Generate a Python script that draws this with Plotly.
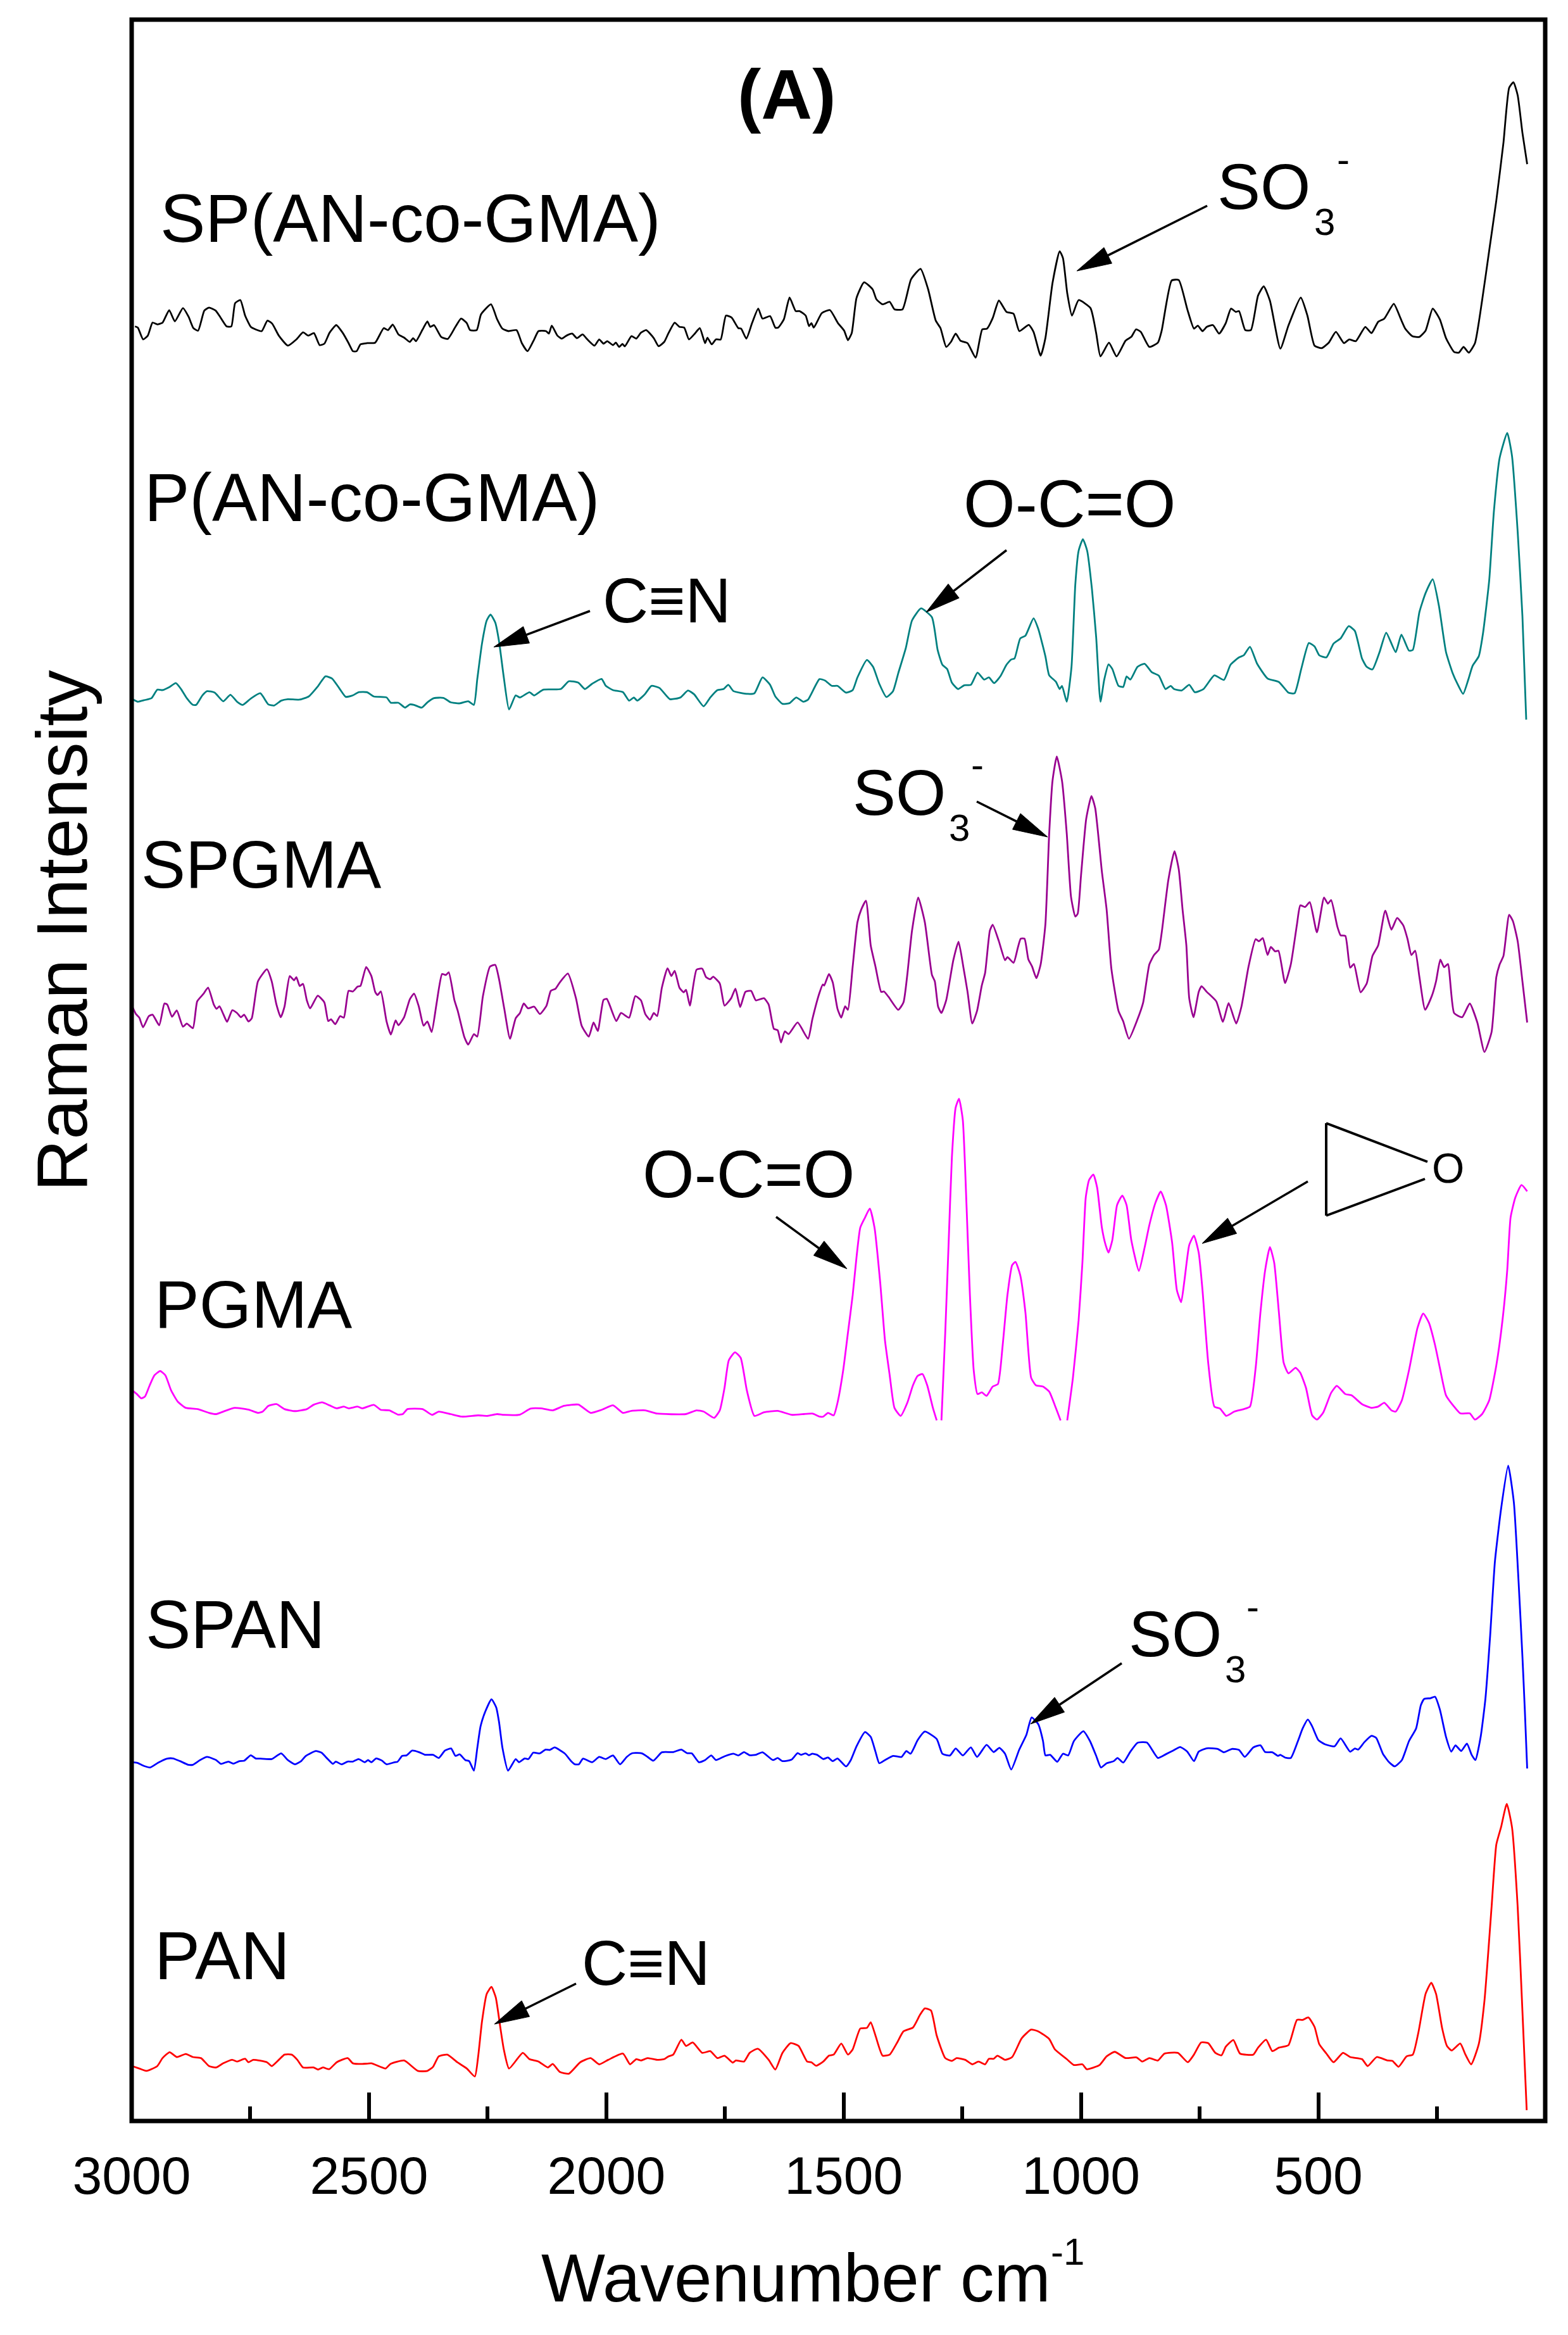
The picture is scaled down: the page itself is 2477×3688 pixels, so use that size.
import plotly.graph_objects as go

# Raman spectra: (wavenumber cm-1, intensity a.u.). None = trace leaves the plot.
sp_an_co_gma = [(2993,347),(2987,342),(2976,295),(2966,310),(2956,362),(2946,355),(2935,362),(2921,412),(2909,367),(2892,420),(2880,385),(2870,340),(2860,330),(2847,410),(2837,422),(2823,410),(2812,380),(2800,347),(2790,347),(2782,440),(2771,452),(2761,390),(2749,345),(2739,335),(2726,328),(2714,370),(2704,358),(2690,310),(2671,270),(2653,295),(2639,323),(2628,310),(2616,320),(2604,272),(2594,278),(2583,322),(2569,352),(2555,320),(2543,280),(2534,248),(2526,248),(2518,275),(2504,280),(2487,282),(2469,340),(2460,332),(2450,354),(2438,315),(2426,302),(2414,285),(2407,300),(2401,288),(2387,335),(2377,367),(2371,345),(2363,352),(2348,305),(2334,297),(2318,345),(2306,378),(2294,360),(2287,332),(2273,332),(2264,395),(2243,435),(2230,375),(2219,338),(2206,328),(2189,332),(2178,280),(2166,248),(2152,295),(2143,328),(2127,328),(2121,318),(2115,350),(2103,310),(2094,298),(2084,310),(2072,318),(2062,300),(2050,315),(2040,295),(2025,270),(2015,295),(2006,278),(1998,288),(1986,272),(1980,282),(1973,265),(1966,277),(1961,267),(1947,308),(1937,298),(1927,322),(1916,332),(1900,300),(1890,268),(1878,285),(1869,320),(1856,362),(1846,345),(1836,342),(1826,295),(1815,315),(1803,340),(1792,280),(1787,302),(1778,275),(1769,295),(1759,295),(1748,390),(1736,382),(1722,340),(1716,338),(1705,298),(1693,360),(1680,418),(1671,378),(1655,388),(1644,342),(1638,342),(1626,375),(1614,462),(1601,408),(1593,408),(1580,390),(1573,348),(1568,360),(1563,342),(1546,400),(1529,412),(1512,360),(1499,330),(1491,292),
(1483,320),(1473,460),(1457,523),(1439,495),(1431,455),(1418,435),(1403,445),(1393,415),(1376,415),(1358,535),(1338,577),(1322,495),(1306,370),(1296,340),(1284,265),(1274,285),(1264,318),(1254,290),(1239,280),(1222,222),(1208,335),(1198,338),(1186,380),(1173,450),(1157,405),(1142,397),(1130,328),(1110,353),(1100,325),(1085,230),(1075,300),(1060,520),(1045,647),(1038,620),(1029,480),(1019,390),(1005,452),(980,420),(968,320),(959,227),(941,282),(925,227),(906,290),(894,305),(884,335),(874,325),(856,265),(838,282),(830,330),(809,530),(794,532),(776,415),(762,338),(754,350),(744,328),(735,345),(722,352),(709,318),(695,360),(684,418),(674,405),(667,408),(654,332),(642,332),(627,470),(615,507),(602,450),(580,258),(563,350),(537,462),(523,390),(508,270),(493,260),(478,282),(463,325),(446,280),(435,295),(421,288),(401,345),(388,320),(374,365),(361,378),(341,437),(327,380),(317,338),(302,308),(287,305),(274,330),(259,418),(244,375),(231,300),(214,245),(204,242),(194,265),(183,242),(170,280),(155,450),(140,650),(125,850),(110,1080),(98,1300),(89,1322),(80,1270),(70,1120),(60,995)]

p_an_co_gma = [(2999,208),(2987,195),(2974,202),(2958,212),(2946,252),(2935,250),(2920,265),(2907,283),(2896,255),(2884,212),(2871,180),(2864,180),(2851,225),(2841,245),(2825,238),(2807,197),(2792,228),(2778,195),(2766,180),(2749,210),(2729,235),(2712,182),(2700,177),(2685,200),(2671,207),(2646,205),(2627,220),(2607,270),(2592,315),(2578,305),(2563,260),(2549,218),(2534,225),(2522,240),(2504,240),(2490,220),(2463,215),(2454,190),(2438,190),(2424,167),(2414,182),(2405,180),(2389,167),(2377,192),(2363,212),(2343,213),(2328,192),(2309,187),(2291,197),(2279,180),(2272,300),(2262,470),(2252,580),(2244,608),(2234,570),(2226,480),(2216,310),(2205,158),(2191,225),(2182,215),(2162,240),(2152,225),(2133,252),(2096,255),(2079,292),(2059,285),(2045,255),(2030,280),(2010,303),(2001,270),(1986,250),(1965,240),(1952,200),(1942,215),(1935,200),(1919,230),(1905,270),(1888,260),(1866,207),(1844,215),(1828,248),(1815,230),(1795,173),(1781,215),(1766,250),(1753,255),(1743,275),(1732,245),(1702,232),(1688,235),(1671,310),(1655,275),(1644,220),(1629,185),(1614,188),(1600,215),(1585,195),(1575,205),(1551,302),
(1539,295),(1525,270),(1513,270),(1495,238),(1481,250),(1471,310),(1451,393),(1438,360),(1425,280),(1410,217),(1396,245),(1385,330),(1369,450),(1356,580),(1337,637),(1314,595),(1302,440),(1292,370),(1282,350),(1272,285),(1259,255),(1246,273),(1232,275),(1218,333),(1204,300),(1194,310),(1183,283),(1170,315),(1157,370),(1147,395),(1140,400),(1128,495),(1117,508),(1100,590),(1090,540),(1075,410),(1067,320),(1053,290),(1045,255),(1040,270),(1030,195),(1020,360),(1012,750),(1005,910),(996,965),(987,910),(977,730),(968,500),(959,195),(951,300),(942,372),(934,350),(921,270),(911,265),(904,315),(896,300),(881,360),(866,375),(851,335),(836,318),(822,255),(811,270),(804,255),(788,248),(772,275),(760,240),(742,255),(719,320),(699,298),(685,370),(667,405),(657,415),(644,455),(629,375),(607,305),(583,288),(563,238),(550,235),(536,350),(520,473),(508,457),(498,415),(483,405),(468,470),(453,495),(436,553),(423,530),(408,400),(398,360),(386,348),(371,430),(357,522),(337,430),(325,513),(309,437),(301,440),(287,620),(274,710),(259,775),(246,650),(231,430),(217,330),(207,280),(195,232),(184,300),(175,365),(162,410),(153,520),(140,770),(130,1100),(118,1350),(102,1468),(92,1360),(80,1000),(70,600),(62,110)]

spgma = [(2999,282),(2991,245),(2984,228),(2976,182),(2964,235),(2956,242),(2942,192),(2931,295),(2925,290),(2915,232),(2905,262),(2892,185),(2884,200),(2871,178),(2862,305),(2849,340),(2839,370),(2827,290),(2821,270),(2815,282),(2807,245),(2799,208),(2788,263),(2778,250),(2770,230),(2763,242),(2754,210),(2747,225),(2734,400),(2715,457),(2705,400),(2695,290),(2686,230),(2678,280),(2667,425),(2658,405),(2653,420),(2646,378),(2639,388),(2631,310),(2624,272),(2608,332),(2594,300),(2586,212),(2580,220),(2571,197),(2561,235),(2553,228),(2543,355),(2534,352),(2524,375),(2518,378),(2506,468),(2495,425),(2487,350),(2482,335),(2475,352),(2463,210),(2454,148),(2444,215),(2438,192),(2426,230),(2414,315),(2405,342),(2395,280),(2385,190),(2377,210),(2368,160),(2358,290),(2346,435),(2338,430),(2332,443),(2320,310),(2313,260),(2299,135),(2291,100),(2279,150),(2272,138),(2260,330),(2245,470),(2234,478),(2226,410),(2215,270),(2203,128),(2191,225),(2182,250),(2174,295),(2165,272),(2152,280),(2140,245),(2126,285),(2117,355),(2107,365),(2098,395),(2081,437),(2064,320),(2052,190),(2037,138),(2027,205),(2018,165),(2006,312),(1999,317),(1979,212),(1969,250),(1952,228),(1939,330),(1927,310),(1918,245),(1908,218),(1900,250),(1893,235),(1883,370),(1871,462),(1863,425),(1856,450),(1846,370),(1837,348),(1832,360),(1824,285),(1810,455),(1798,460),(1790,420),(1781,410),(1775,422),(1761,390),(1751,285),(1737,320),(1728,365),(1718,278),(1707,350),(1695,355),(1685,310),(1668,320),(1658,290),(1647,175),(1639,168),(1632,110),(1624,163),(1616,150),(1597,205),(1575,128),(1566,220),(1551,345),(1544,385),
(1541,380),(1531,435),(1523,395),(1513,270),(1505,228),(1497,282),(1491,265),(1481,470),(1471,680),(1463,740),(1453,782),(1443,570),(1433,470),(1421,350),(1415,352),(1405,325),(1385,265),(1374,300),(1366,430),(1356,640),(1343,797),(1329,680),(1314,430),(1308,400),(1301,280),(1294,250),(1284,310),(1269,500),(1258,588),(1248,470),(1239,350),(1229,200),(1219,260),(1209,380),(1202,440),(1192,640),(1186,668),(1173,590),(1160,500),(1155,515),(1142,488),(1133,560),(1127,602),(1119,602),(1111,505),(1103,470),(1094,415),(1085,480),(1075,670),(1067,1100),(1060,1350),(1051,1465),(1040,1350),(1030,1100),(1021,800),(1012,707),(1007,720),(1000,900),(989,1170),(978,1278),(970,1220),(956,920),(946,740),(936,460),(921,260),(911,210),(899,128),(881,220),(869,300),(856,480),(846,525),(836,550),(830,630),(816,880),(803,1017),(794,930),(786,740),(778,570),(772,320),(763,230),(752,350),(746,377),(735,350),(715,305),(701,208),(689,297),(673,200),(662,280),(647,470),(632,600),(625,590),(617,605),(607,525),(600,563),(591,542),(584,545),(570,392),(558,480),(545,670),(538,760),(528,752),(518,775),(503,632),(488,797),(480,768),(473,785),(460,660),(453,618),(443,615),(433,465),(425,482),(411,348),(398,390),(386,520),(374,570),(359,735),(346,645),(334,700),(321,665),(312,600),(304,525),(296,545),(287,420),(275,265),(261,330),(252,400),(243,503),(235,467),(227,482),(214,250),(197,230),(181,295),(165,205),(150,65),(135,160),(125,420),(118,480),(110,520),(98,715),(90,685),(80,590),(70,400),(60,205)]

pgma = [(2999,270),(2989,255),(2980,238),(2972,245),(2962,290),(2952,330),(2940,347),(2929,330),(2917,270),(2903,225),(2886,200),(2861,195),(2837,180),(2822,175),(2803,188),(2783,200),(2754,193),(2734,180),(2724,185),(2712,208),(2695,215),(2678,195),(2656,187),(2631,195),(2617,212),(2599,222),(2583,210),(2568,198),(2553,205),(2543,198),(2524,205),(2514,198),(2490,212),(2475,192),(2457,190),(2439,173),(2429,175),(2419,195),(2387,195),(2367,172),(2353,185),(2328,175),(2304,165),(2270,170),(2250,168),(2230,175),(2216,172),(2182,173),(2160,197),(2138,198),(2113,190),(2089,208),(2059,213),(2033,180),(2010,192),(1986,210),(1965,180),(1947,188),(1918,190),(1893,177),(1833,175),(1810,190),(1795,185),(1773,160),(1761,190),(1751,280),(1742,390),(1729,422),(1717,400),(1704,270),(1688,168),(1668,182),(1639,188),(1609,172),(1566,177),(1551,165),
(1543,165),(1533,180),(1521,170),(1513,220),(1501,350),(1491,500),(1481,650),(1473,800),(1465,920),(1455,960),(1445,996),(1435,920),(1423,700),(1413,470),(1403,330),(1393,200),(1380,168),(1366,220),(1354,290),(1344,328),(1334,335),(1324,290),(1312,200),(1304,150),(1299,None),(1294,150),(1286,500),(1279,850),(1272,1200),(1264,1400),(1257,1435),(1249,1350),(1241,1000),(1234,650),(1226,350),(1218,255),(1209,262),(1199,248),(1186,285),(1175,295),(1165,450),(1155,650),(1145,770),(1138,783),(1128,730),(1117,580),(1105,320),(1095,290),(1080,285),(1067,265),(1055,210),(1043,150),(1036,None),(1029,150),(1017,320),(1005,550),(997,780),(990,1040),(983,1110),(974,1132),(966,1080),(956,920),(948,850),(942,820),(934,870),(924,1010),(913,1048),(904,1010),(894,870),(878,747),(866,840),(856,930),(843,1020),(832,1064),(821,1010),(808,860),(798,670),(789,622),(782,710),(772,850),(762,888),(752,820),(744,670),(732,380),(719,205),(707,197),(694,168),(677,185),(657,195),(644,205),(632,360),(622,580),(612,750),(602,842),(593,780),(583,580),(573,380),(563,338),(548,360),(538,340),(526,280),(513,170),(503,153),(490,180),(473,260),(461,288),(443,255),(430,250),(408,215),(388,200),(374,205),(361,220),(346,190),(337,185),(324,230),(309,350),(291,520),(279,577),(267,540),(254,450),(244,360),(231,250),(214,205),(201,178),(181,178),(170,153),(155,175),(140,230),(125,370),(112,550),(102,750),(95,960),(85,1040),(72,1090),(60,1065)]

span = [(2999,150),(2988,147),(2974,132),(2961,125),(2944,148),(2925,167),(2913,168),(2898,155),(2881,138),(2871,138),(2856,160),(2841,175),(2822,160),(2812,142),(2796,153),(2786,143),(2773,155),(2763,157),(2749,183),(2739,168),(2729,167),(2705,165),(2685,192),(2671,160),(2656,140),(2643,155),(2633,180),(2612,203),(2600,195),(2587,165),(2576,142),(2570,153),(2558,140),(2545,153),(2534,153),(2522,165),(2509,150),(2502,160),(2495,150),(2485,168),(2473,158),(2463,140),(2446,150),(2440,152),(2430,180),(2421,182),(2409,205),(2395,198),(2382,185),(2365,185),(2353,170),(2340,205),(2327,215),(2318,180),(2309,187),(2297,160),(2289,155),(2279,110),(2272,215),(2265,320),(2255,390),(2242,448),(2232,410),(2226,340),(2219,220),(2207,110),(2191,165),(2184,150),(2172,168),(2164,165),(2154,195),(2140,192),(2128,210),(2119,208),(2109,220),(2088,192),(2074,155),(2066,140),(2058,140),(2049,167),(2030,150),(2015,175),(2001,165),(1986,182),(1971,140),(1957,175),(1945,193),(1925,192),(1913,175),(1901,157),(1883,197),(1859,198),(1842,210),(1830,193),(1820,192),(1805,150),(1792,160),(1779,182),(1769,160),(1751,178),(1732,190),(1722,182),(1710,198),(1698,183),(1685,185),(1671,197),(1649,160),(1639,170),(1629,155),(1610,162),(1597,193),(1590,185),(1580,192),(1573,183),(1566,190),(1556,185),
(1543,165),(1533,172),(1523,155),(1513,168),(1495,130),(1485,160),(1473,225),(1455,293),(1443,270),(1433,200),(1425,145),(1413,160),(1396,180),(1378,175),(1368,203),(1359,190),(1344,255),(1329,295),(1304,260),(1292,190),(1276,182),(1264,215),(1249,182),(1232,220),(1219,175),(1199,232),(1184,198),(1172,218),(1160,190),(1147,115),(1130,210),(1115,280),(1104,362),(1090,330),(1080,250),(1075,182),(1065,185),(1050,152),(1038,190),(1027,182),(1015,250),(995,297),(981,250),(968,180),(958,125),(946,145),(931,155),(923,170),(911,148),(896,200),(881,242),(861,243),(838,170),(821,188),(806,205),(791,222),(776,200),(762,155),(752,200),(735,216),(712,213),(699,197),(682,213),(667,208),(655,175),(637,220),(622,230),(612,198),(597,197),(585,180),(580,185),(570,172),(558,170),(543,250),(533,310),(522,352),(513,320),(500,255),(486,235),(466,225),(453,263),(433,200),(423,215),(416,210),(403,245),(388,275),(378,265),(364,190),(351,150),(339,130),(324,160),(309,250),(294,310),(284,420),(277,450),(264,453),(254,460),(244,400),(231,270),(220,200),(211,230),(199,203),(187,238),(177,185),(169,160),(158,270),(148,450),(138,750),(128,1100),(115,1350),(100,1555),(88,1380),(78,1000),(70,650),(65,400),(60,120)]

pan = [(2999,792),(2984,785),(2969,778),(2946,792),(2935,815),(2920,832),(2905,818),(2886,827),(2871,818),(2854,815),(2837,792),(2822,788),(2807,800),(2788,810),(2778,805),(2761,813),(2754,803),(2744,810),(2715,803),(2705,792),(2690,810),(2678,825),(2663,825),(2651,810),(2639,788),(2617,788),(2607,782),(2597,788),(2584,783),(2568,803),(2545,815),(2534,800),(2514,798),(2495,800),(2465,785),(2455,798),(2426,808),(2397,778),(2377,778),(2365,790),(2353,820),(2335,825),(2314,803),(2294,785),(2277,762),(2270,820),(2262,920),(2252,1000),(2242,1020),(2233,990),(2223,900),(2216,840),(2205,785),(2176,830),(2162,812),(2143,805),(2123,788),(2113,798),(2098,775),(2079,770),(2055,803),(2033,815),(2015,797),(1996,810),(1965,828),(1950,797),(1937,812),(1927,808),(1913,815),(1893,810),(1878,812),(1869,820),(1859,825),(1842,868),(1832,850),(1818,860),(1798,830),(1781,835),(1766,815),(1751,822),(1734,802),(1727,808),(1710,805),(1698,830),(1681,842),(1658,810),(1644,782),(1629,830),(1612,858),(1595,850),(1577,805),(1568,803),(1558,793),
(1543,805),(1531,822),(1521,825),(1505,857),(1491,825),(1481,840),(1465,900),(1451,902),(1443,918),(1433,880),(1418,822),(1403,825),(1388,858),(1374,892),(1354,903),(1339,940),(1329,958),(1316,952),(1304,880),(1286,815),(1272,807),(1262,815),(1244,810),(1229,797),(1216,805),(1202,797),(1194,813),(1184,813),(1176,822),(1160,810),(1145,818),(1125,872),(1105,897),(1090,892),(1067,870),(1055,840),(1030,812),(1015,795),(997,797),(988,783),(961,795),(946,820),(929,833),(906,815),(883,817),(871,805),(856,815),(838,808),(824,828),(796,830),(775,803),(762,825),(747,860),(732,858),(717,830),(704,823),(695,848),(679,867),(665,828),(637,825),(627,845),(610,868),(597,835),(583,845),(563,852),(545,925),(533,925),(521,932),(508,905),(498,855),(483,828),(468,803),(448,830),(433,818),(408,812),(396,792),(377,818),(354,808),(344,807),(331,790),(314,820),(301,825),(289,890),(274,1000),(262,1032),(252,1000),(239,900),(229,850),(219,837),(201,857),(190,825),(178,797),(162,855),(150,980),(135,1250),(125,1430),(115,1480),(103,1547),(92,1480),(80,1250),(70,950),(61,665)]

series_names = ["SP(AN-co-GMA)", "P(AN-co-GMA)", "SPGMA", "PGMA", "SPAN", "PAN"]
series_data = [sp_an_co_gma, p_an_co_gma, spgma, pgma, span, pan]
series_colors = ["#000000", "#008080", "#990090", "#FF00FF", "#0000FF", "#FF0000"]
series_offset = [2697.3, 2176.7, 1666.7, 1047.3, 516.7, -347.7]   # vertical stacking
series_scale = [2.529, 3.0, 3.0, 2.529, 3.0, 1.823]              # a.u. per stacked unit

W, H = 2477, 3688
PAGE = 8          # the page's own margin round the figure
L, R, T, B = 208, 2441, 31, 3350
FONT = "Liberation Sans"

fig = go.Figure()
for name, data, color, off, sc in zip(series_names, series_data, series_colors, series_offset, series_scale):
    fig.add_trace(go.Scatter(
        x=[p[0] for p in data],
        y=[None if p[1] is None else off + p[1] / sc for p in data],
        mode="lines", name=name, line=dict(color=color, width=2.8, shape="spline", smoothing=0.5),
        connectgaps=False))


def X(px):
    return (px - L) / (R - L)


def Y(py):
    return (B - py) / (B - T)


annotations = []
shapes = [dict(type="rect", xref="paper", yref="paper", x0=0, x1=1, y0=0, y1=1,
               line=dict(color="black", width=7), layer="above")]


def label(text, left, baseline, size, bold=False):
    annotations.append(dict(
        text=f"<b>{text}</b>" if bold else text, xref="paper", yref="paper",
        x=X(left), y=Y(baseline - 0.3465 * size), xanchor="left", yanchor="middle",
        showarrow=False, borderpad=0, borderwidth=0,
        font=dict(family=FONT, size=size, color="black")))


def arrow(tx, ty, hx, hy, length=55, half=14):
    dx, dy = hx - tx, hy - ty
    n = (dx * dx + dy * dy) ** 0.5
    ux, uy = dx / n, dy / n
    bx, by = hx - ux * length, hy - uy * length
    shapes.append(dict(type="line", xref="paper", yref="paper", x0=X(tx), y0=Y(ty), x1=X(bx), y1=Y(by),
                       line=dict(color="black", width=3.5)))
    a = (bx - uy * half, by + ux * half)
    b = (bx + uy * half, by - ux * half)
    path = "M {} {} L {} {} L {} {} Z".format(X(hx), Y(hy), X(a[0]), Y(a[1]), X(b[0]), Y(b[1]))
    shapes.append(dict(type="path", xref="paper", yref="paper", path=path,
                       fillcolor="black", line=dict(color="black", width=1)))


def so3(left, baseline, sub_left, sub_base, minus_left, minus_y):
    label("SO", left, baseline, 102)
    label("3", sub_left, sub_base, 60)
    label("-", minus_left, minus_y + 16, 60)


label("(A)", 1165, 188, 112, bold=True)
label("SP(AN-co-GMA)", 253, 382, 107)
label("P(AN-co-GMA)", 228, 823, 107)
label("SPGMA", 223, 1402, 105)
label("PGMA", 244, 2097, 106)
label("SPAN", 230, 2603, 107)
label("PAN", 244, 3126, 108)
label("O-C=O", 1522, 832, 105)
label("O-C=O", 1015, 1891, 105)
label("C≡N", 952, 983, 100)
label("C≡N", 919, 3135, 100)
so3(1923, 330, 2076, 371, 2112, 256)
so3(1347, 1287, 1499, 1328, 1534, 1212)
so3(1783, 2616, 1935, 2657, 1969, 2542)
label("O", 2262, 1868, 66)
label("Wavenumber cm", 855, 3635, 107)
label("-1", 1660, 3577, 60)
annotations.append(dict(text="Raman Intensity", xref="paper", yref="paper", x=X(97), y=Y(1470),
                        xanchor="center", yanchor="middle", textangle=-90, showarrow=False,
                        borderpad=0, borderwidth=0, font=dict(family=FONT, size=114, color="black")))

arrow(1907, 325, 1701, 428)
arrow(932, 965, 780, 1022)
arrow(1590, 869, 1463, 967)
arrow(1543, 1266, 1655, 1322)
arrow(1226, 1922, 1338, 2004)
arrow(2066, 1866, 1899, 1964)
arrow(1772, 2627, 1628, 2723)
arrow(910, 3133, 781, 3197)

# epoxide ring sketch
for x0, y0, x1, y1 in [(2095, 1774, 2095, 1920), (2095, 1774, 2255, 1835), (2095, 1920, 2251, 1862)]:
    shapes.append(dict(type="line", xref="paper", yref="paper", x0=X(x0), y0=Y(y0), x1=X(x1), y1=Y(y1),
                       line=dict(color="black", width=4)))

fig.update_layout(
    width=W - PAGE, height=H - PAGE,
    margin=dict(l=L - PAGE, r=W - R, t=T - PAGE, b=H - B, pad=0, autoexpand=False),
    paper_bgcolor="white", plot_bgcolor="white", showlegend=False,
    annotations=annotations, shapes=shapes,
    font=dict(family=FONT, color="black"),
    xaxis=dict(range=[3000, 22], tickmode="linear", tick0=0, dtick=500,
               ticks="inside", ticklen=45, tickwidth=6, tickcolor="black",
               tickfont=dict(family=FONT, size=84, color="black"), ticklabelstandoff=30,
               showgrid=False, zeroline=False, showline=False,
               minor=dict(tickmode="linear", tick0=0, dtick=250, ticks="inside", ticklen=23, tickwidth=6,
                          tickcolor="black", showgrid=False)),
    yaxis=dict(range=[0, B - T], showticklabels=False, ticks="", showgrid=False, zeroline=False, showline=False),
)
fig.write_html("out.html")
